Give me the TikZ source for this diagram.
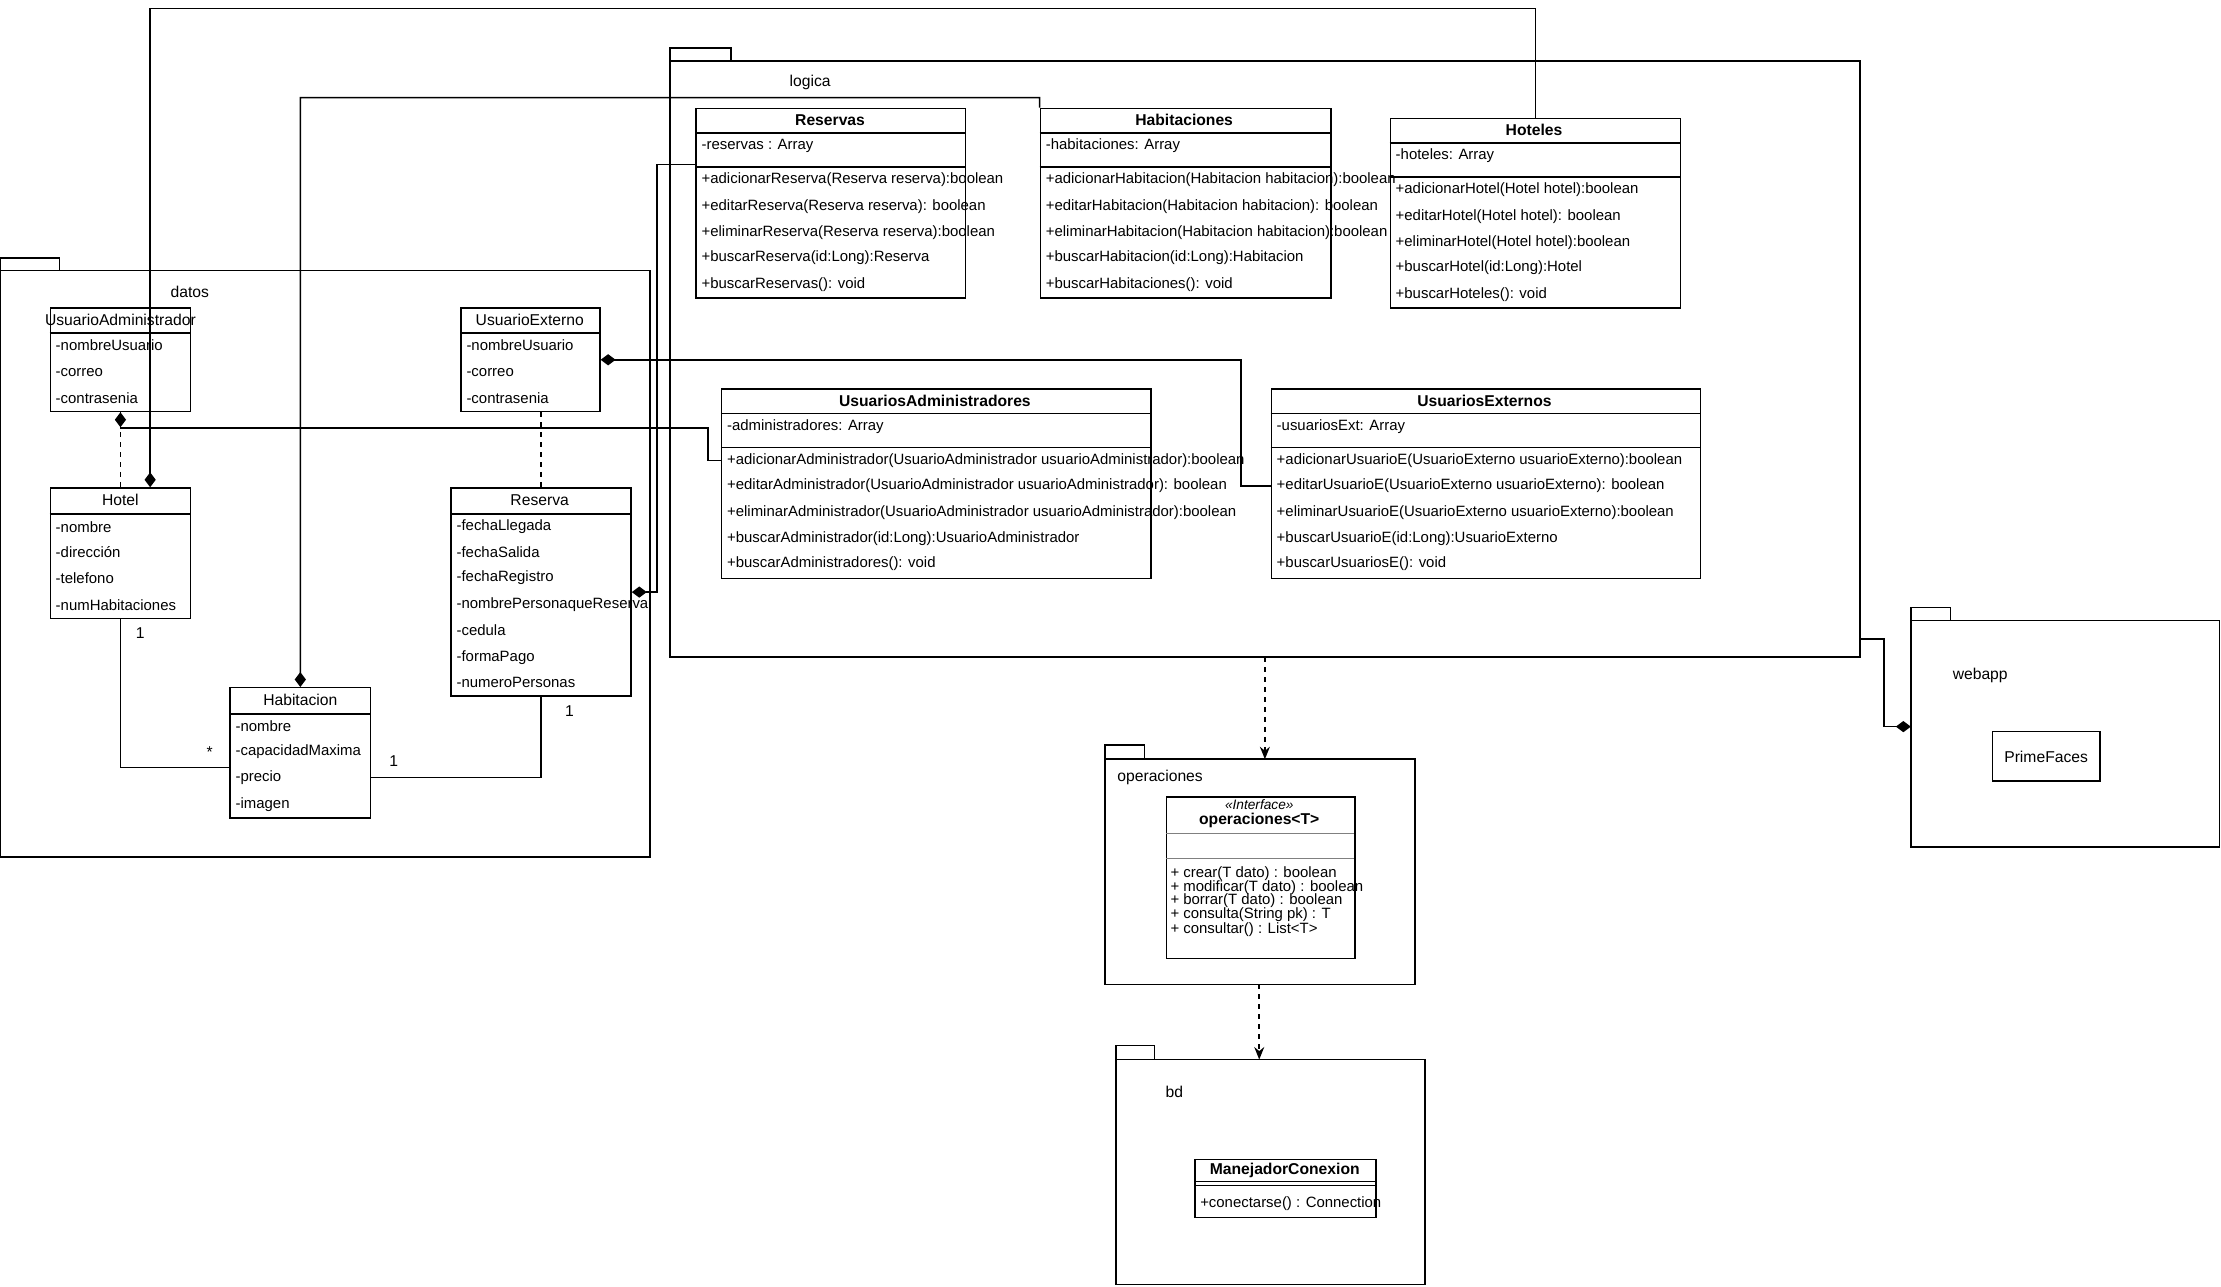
\documentclass[tikz,border=0pt]{standalone}
\usepackage{fontspec}
\setmainfont{Liberation Sans}
\usetikzlibrary{arrows.meta,calc}
\newcommand\umlbox[5]{\node[draw,line width=0.6pt,inner sep=0,minimum width={(#4-#2)*0.02cm},minimum height={(#5-#3)*0.02cm},anchor=north west] (#1) at (#2,#3) {};}
\newcommand\hsep[3]{\draw[line width=0.6pt] (#1,#3) -- (#2,#3);}
\newcommand\row[3]{\node[txt] at (#1,#2) {#3};}
\newcommand\pkg[6]{\draw[line width=0.6pt] (#2,#3) rectangle (#4,#5); \draw[line width=0.6pt] (#2,#5) rectangle (#6,#3-9);}
\begin{document}
\begin{tikzpicture}[x=0.02cm,y=-0.02cm,
  txt/.style={anchor=west,inner sep=0,font=\fontsize{6}{7}\selectfont},
  ttl/.style={inner sep=0,font=\fontsize{6.3}{7}\selectfont},
  bttl/.style={inner sep=0,font=\fontsize{6.3}{7}\selectfont\bfseries},
  conn/.style={line width=0.6pt},
  dia/.style={conn,-{Diamond[length=6pt,width=4.5pt]}},
  dep/.style={conn,dashed,dash pattern=on 2pt off 2pt,-{Stealth[length=5pt,width=4pt]}}]
\useasboundingbox (0,0) rectangle (1568,908);
% ---------- packages
\draw[line width=0.6pt] (0,191) rectangle (459,605); \draw[line width=0.6pt] (0,182) rectangle (42,191);
\node[ttl] at (134,206) {datos};
\draw[line width=0.6pt] (473,43) rectangle (1313,464); \draw[line width=0.6pt] (473,34) rectangle (516,43);
\node[ttl] at (572,58) {logica};
\draw[line width=0.6pt] (1349,438) rectangle (1567,598); \draw[line width=0.6pt] (1349,429) rectangle (1377,438);
\node[ttl] at (1398,477) {webapp};
\draw[line width=0.6pt] (780,536) rectangle (999,695); \draw[line width=0.6pt] (780,526) rectangle (808,536);
\node[ttl] at (819,549) {operaciones};
\draw[line width=0.6pt] (788,748) rectangle (1006,907); \draw[line width=0.6pt] (788,738) rectangle (815,748);
\node[ttl] at (829,771) {bd};
% ---------- datos classes
\umlbox{ua}{35}{217}{134}{290}\hsep{35}{134}{235}
\node[ttl] at (85,226) {UsuarioAdministrador};
\row{39}{244}{-nombreUsuario}\row{39}{263}{-correo}\row{39}{281}{-contrasenia}
\umlbox{ue}{325}{217}{423}{290}\hsep{325}{423}{235}
\node[ttl] at (374,226) {UsuarioExterno};
\row{329}{244}{-nombreUsuario}\row{329}{263}{-correo}\row{329}{281}{-contrasenia}
\umlbox{hotel}{35}{344}{134}{436}\hsep{35}{134}{363}
\node[ttl] at (85,353) {Hotel};
\row{39}{372}{-nombre}\row{39}{390}{-dirección}\row{39}{408}{-telefono}\row{39}{427}{-numHabitaciones}
\umlbox{reserva}{318}{344}{445}{491}\hsep{318}{445}{363}
\node[ttl] at (381,353) {Reserva};
\row{322}{372}{-fechaLlegada}\row{322}{390}{-fechaSalida}\row{322}{408}{-fechaRegistro}
\row{322}{427}{-nombrePersonaqueReserva}\row{322}{445}{-cedula}\row{322}{464}{-formaPago}\row{322}{482}{-numeroPersonas}
\umlbox{habit}{162}{485}{261}{577}\hsep{162}{261}{504}
\node[ttl] at (212,494) {Habitacion};
\row{166}{513}{-nombre}\row{166}{531}{-capacidadMaxima}\row{166}{549}{-precio}\row{166}{568}{-imagen}
% ---------- logica classes
\umlbox{reservas}{491}{76}{681}{210}\hsep{491}{681}{94}\hsep{491}{681}{118}
\node[bttl] at (586,85) {Reservas};
\row{495}{103}{-reservas : Array}
\row{495}{127}{+adicionarReserva(Reserva reserva):boolean}\row{495}{146}{+editarReserva(Reserva reserva): boolean}
\row{495}{164}{+eliminarReserva(Reserva reserva):boolean}\row{495}{182}{+buscarReserva(id:Long):Reserva}\row{495}{201}{+buscarReservas(): void}
\umlbox{habs}{734}{76}{939}{210}\hsep{734}{939}{94}\hsep{734}{939}{118}
\node[bttl] at (836,85) {Habitaciones};
\row{738}{103}{-habitaciones: Array}
\row{738}{127}{+adicionarHabitacion(Habitacion habitacion):boolean}\row{738}{146}{+editarHabitacion(Habitacion habitacion): boolean}
\row{738}{164}{+eliminarHabitacion(Habitacion habitacion):boolean}\row{738}{182}{+buscarHabitacion(id:Long):Habitacion}\row{738}{201}{+buscarHabitaciones(): void}
\umlbox{hoteles}{981}{83}{1186}{217}\hsep{981}{1186}{101}\hsep{981}{1186}{125}
\node[bttl] at (1083,92) {Hoteles};
\row{985}{110}{-hoteles: Array}
\row{985}{134}{+adicionarHotel(Hotel hotel):boolean}\row{985}{153}{+editarHotel(Hotel hotel): boolean}
\row{985}{171}{+eliminarHotel(Hotel hotel):boolean}\row{985}{189}{+buscarHotel(id:Long):Hotel}\row{985}{208}{+buscarHoteles(): void}
\umlbox{uas}{509}{274}{812}{408}\hsep{509}{812}{292}\hsep{509}{812}{316}
\node[bttl] at (660,283) {UsuariosAdministradores};
\row{513}{301}{-administradores: Array}
\row{513}{325}{+adicionarAdministrador(UsuarioAdministrador usuarioAdministrador):boolean}
\row{513}{343}{+editarAdministrador(UsuarioAdministrador usuarioAdministrador): boolean}
\row{513}{362}{+eliminarAdministrador(UsuarioAdministrador usuarioAdministrador):boolean}
\row{513}{380}{+buscarAdministrador(id:Long):UsuarioAdministrador}\row{513}{398}{+buscarAdministradores(): void}
\umlbox{ues}{897}{274}{1200}{408}\hsep{897}{1200}{292}\hsep{897}{1200}{316}
\node[bttl] at (1048,283) {UsuariosExternos};
\row{901}{301}{-usuariosExt: Array}
\row{901}{325}{+adicionarUsuarioE(UsuarioExterno usuarioExterno):boolean}
\row{901}{343}{+editarUsuarioE(UsuarioExterno usuarioExterno): boolean}
\row{901}{362}{+eliminarUsuarioE(UsuarioExterno usuarioExterno):boolean}
\row{901}{380}{+buscarUsuarioE(id:Long):UsuarioExterno}\row{901}{398}{+buscarUsuariosE(): void}
% ---------- webapp, operaciones, bd contents
\umlbox{pf}{1406}{516}{1482}{551}
\node[ttl] at (pf.center) {PrimeFaces};
\umlbox{ops}{823}{562}{956}{676}
\draw[line width=0.3pt,gray] (823,588) -- (956,588); \draw[line width=0.3pt,gray] (823,606) -- (956,606);
\node[inner sep=0,font=\fontsize{5.5}{6}\selectfont\itshape] at (889,568) {<<Interface>>};
\node[bttl] at (889,579) {operaciones<T>};
\row{826}{617}{+ crear(T dato) : boolean}\row{826}{627}{+ modificar(T dato) : boolean}\row{826}{636}{+ borrar(T dato) : boolean}
\row{826}{646}{+ consulta(String pk) : T}\row{826}{656}{+ consultar() : List<T>}
\umlbox{mc}{843}{818}{971}{859}\hsep{843}{971}{834}\hsep{843}{971}{837}
\node[bttl] at (907,826) {ManejadorConexion};
\row{847}{850}{+conectarse() : Connection}
% ---------- connectors
\node[ttl] at (99,447) {1};
\node[ttl] at (148,531) {*};
\node[ttl] at (278,537) {1};
\node[ttl] at (402,502) {1};
\draw[conn] (hotel.south) |- ($(habit.north west)+(0,57)$);
\draw[conn] (reserva.south) |- ($(habit.north east)+(0,64)$);
\draw[conn,dashed,dash pattern=on 2pt off 2pt] (ua.south) -- (hotel.north);
\draw[conn,dashed,dash pattern=on 2pt off 2pt] (ue.south -| reserva.north) -- (reserva.north);
\draw[dia] ($(uas.north west)+(0,51)$) -- ++(-9,0) |- ($(ua.south)+(0,11)$) -- (ua.south);
\draw[dia] ($(ues.north west)+(0,69)$) -- (876,343) |- ($(ue.north east)+(0,37)$);
\draw[dia] ($(reservas.north west)+(0,40)$) -- (464,116) |- ($(reserva.north east)+(0,74)$);
\draw[dia] (hoteles.north) |- (106,6) -- ($(hotel.north west)+(71,0)$);
\draw[dia] (habs.north west) |- (212,69) -- (habit.north);
\draw[dia] (1313,451) -- (1330,451) |- ($(1349,513)$);
\draw[dep] (893,464) -- (893,536);
\draw[dep] (889,695) -- (889,748);
\end{tikzpicture}
\end{document}
